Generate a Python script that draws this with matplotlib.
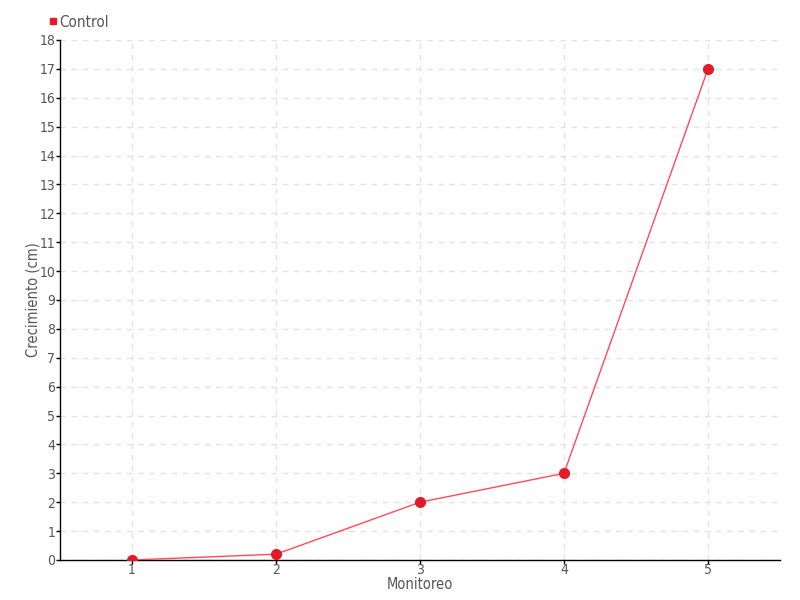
import matplotlib
matplotlib.use('Agg')
import matplotlib.pyplot as plt
from matplotlib.lines import Line2D

# Datos
monitoreo = ['1', '2', '3', '4', '5']
control = [0, 0.2, 2, 3, 17]
y_ticks = list(range(0, 19))

plt.rcParams['font.family'] = ['DejaVu Sans']
plt.rcParams['font.stretch'] = 'condensed'
plt.rcParams['font.weight'] = 'light'

fig = plt.figure(figsize=(8, 6), dpi=100)
ax = fig.add_axes([0.075, 0.0667, 0.9, 0.8667])

x = list(range(1, len(monitoreo) + 1))
ax.plot(x, control, color='#ff4a5a', linewidth=1, zorder=3)
ax.plot(x, control, 'o', color='#e31a2a', markersize=7, zorder=4)

ax.set_xlim(0.5, len(monitoreo) + 0.5)
ax.set_ylim(0, 18)
ax.set_xticks(x)
ax.set_xticklabels(monitoreo)
ax.set_yticks(y_ticks)

ax.grid(True, linestyle=(0, (4, 4)), color='#e3e3e3', linewidth=1)
ax.set_axisbelow(True)
for s in ['top', 'right']:
    ax.spines[s].set_visible(False)
for s in ['left', 'bottom']:
    ax.spines[s].set_color('black')
    ax.spines[s].set_linewidth(1)
ax.tick_params(axis='both', colors='black', labelcolor='#555555', labelsize=10,
               length=3, width=1, pad=0.5)
ax.tick_params(axis='x', pad=-1)

ax.set_xlabel('Monitoreo', color='#555555', fontsize=10.5, labelpad=0.5)
ax.set_ylabel('Crecimiento (cm)', color='#555555', fontsize=10.5, labelpad=-1)

handle = Line2D([], [], marker='s', color='#e31a2a', linestyle='none', markersize=5)
fig.legend([handle], ['Control'], loc='upper left', bbox_to_anchor=(0.05, 0.988),
           frameon=False, fontsize=11, handletextpad=0.05, borderpad=0,
           labelcolor='#555555', handlelength=0.7)

fig.savefig('out.png', dpi=100)
